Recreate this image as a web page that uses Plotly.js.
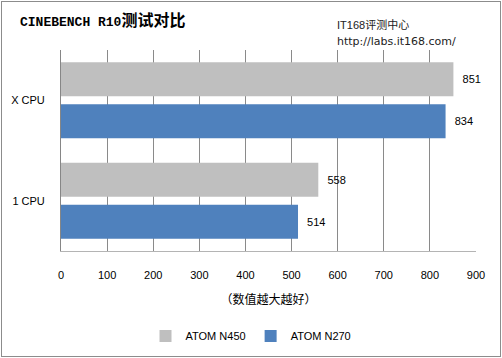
<!DOCTYPE html>
<html><head><meta charset="utf-8">
<script src="https://cdn.plot.ly/plotly-3.0.1.min.js"></script>
<style>
html,body{margin:0;padding:0;background:#fff;}
#wrap{position:relative;width:502px;height:358px;}
#chart{width:502px;height:358px;}
#frame{position:absolute;left:1px;top:1px;width:498px;height:354px;border:1px solid #8c8c8c;pointer-events:none;}
</style></head>
<body>
<div id="wrap"><div id="chart"></div><div id="frame"></div></div>
<script>
const categories = ["X CPU", "1 CPU"];
const seriesNames = ["ATOM N450", "ATOM N270"];
const n450 = [851, 558];
const n270 = [834, 514];
const xTicks = [0, 100, 200, 300, 400, 500, 600, 700, 800, 900];

const latin = "Liberation Sans, Arial, sans-serif";
const cjk = "Liberation Sans, Noto Sans CJK SC, sans-serif";

const traces = [
  {type:'bar', orientation:'h', name:seriesNames[0], y:categories, x:n450,
   marker:{color:'#bfbfbf'}, text:n450.map(v=>'  '+v), textposition:'outside',
   textfont:{family:latin,size:11,color:'#000'}, cliponaxis:false, hoverinfo:'x'},
  {type:'bar', orientation:'h', name:seriesNames[1], y:categories, x:n270,
   marker:{color:'#4f81bd'}, text:n270.map(v=>'  '+v), textposition:'outside',
   textfont:{family:latin,size:11,color:'#000'}, cliponaxis:false, hoverinfo:'x'}
];

const layout = {
  width:502, height:358,
  margin:{l:61, r:26, t:50, b:107},
  paper_bgcolor:'#fff', plot_bgcolor:'#fff',
  barmode:'group', bargap:0.164, bargroupgap:0.19,
  font:{family:latin, size:11, color:'#000'},
  title:{text:'CINEBENCH R10<span style="font-size:16px">测试对比</span>',
    font:{family:'Liberation Mono, Noto Sans CJK SC, monospace', size:13, color:'#000', weight:'bold'},
    xref:'container', yref:'container', x:20/502, xanchor:'left', y:1-21/358, yanchor:'middle'},
  xaxis:{range:[0,900], tickvals:xTicks, ticktext:xTicks.map(String),
    showgrid:true, gridcolor:'#8a8a8a', gridwidth:1, zeroline:false,
    showline:true, linecolor:'#b4b4b4', linewidth:1, ticks:'', ticklabelstandoff:14,
    tickfont:{family:latin,size:11,color:'#000'},
    title:{text:'（数值越大越好）', font:{family:cjk,size:12,color:'#000'}, standoff:15},
    fixedrange:true},
  yaxis:{type:'category', categoryorder:'array', categoryarray:categories, autorange:'reversed',
    showgrid:false, zeroline:false, showline:true, linecolor:'#868686', linewidth:1,
    ticks:'', ticklabelstandoff:13, tickfont:{family:latin,size:11,color:'#000'}, fixedrange:true},
  showlegend:true,
  legend:{orientation:'h', xref:'container', yref:'container', x:0.5, xanchor:'center',
    y:1-336/358, yanchor:'middle', font:{family:latin,size:11,color:'#000'},
    itemwidth:30, tracegroupgap:0, bgcolor:'rgba(0,0,0,0)'},
  annotations:[
    {xref:'paper', yref:'paper', x:(335-61)/415, y:(251-25)/201, xanchor:'left', yanchor:'middle',
     text:'IT168评测中心', showarrow:false, font:{family:cjk,size:11,color:'#222'}},
    {xref:'paper', yref:'paper', x:(335-61)/415, y:(251-42)/201, xanchor:'left', yanchor:'middle',
     text:'http://labs.it168.com/', showarrow:false, font:{family:'DejaVu Sans, sans-serif',size:11,color:'#222'}}
  ]
};

Plotly.newPlot('chart', traces, layout, {displayModeBar:false, staticPlot:true});
</script>
</body></html>
